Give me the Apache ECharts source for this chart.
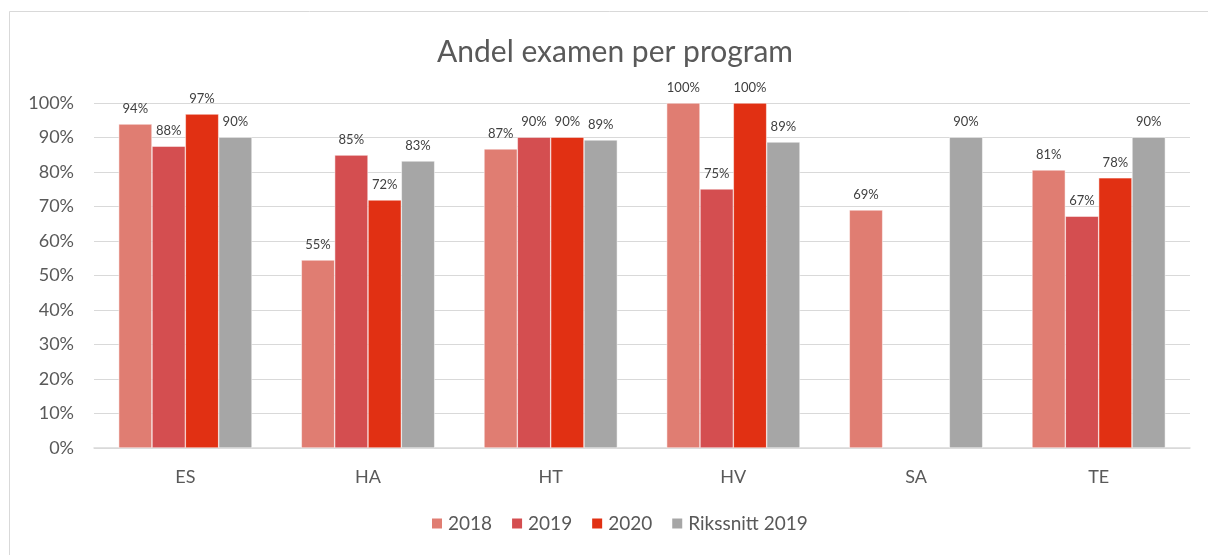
<!DOCTYPE html>
<html>
<head>
<meta charset="utf-8">
<script src="https://cdn.jsdelivr.net/npm/echarts@6/dist/echarts.min.js"></script>
<style>
  html, body { margin: 0; padding: 0; background: #fff; }
  #main { width: 1208px; height: 555px; }
</style>
</head>
<body>
<div id="main"></div>
<script>
// programs
var categories = ['ES', 'HA', 'HT', 'HV', 'SA', 'TE'];
// share of exams per year (percent)
var y2018 = [93.9, 54.5, 86.7, 100, 69, 80.6];
var y2019 = [87.5, 84.9, 90.1, 75.1, null, 67.2];
var y2020 = [96.8, 71.9, 90.1, 100, null, 78.3];
var riks2019 = [90.1, 83.2, 89.3, 88.7, 90.1, 90.1];
var yTicks = [0, 10, 20, 30, 40, 50, 60, 70, 80, 90, 100];

var font = 'Lato, "Open Sans", sans-serif';

function bar(name, data, color) {
  return {
    name: name,
    type: 'bar',
    data: data,
    barGap: '0%',
    barCategoryGap: '27%',
    itemStyle: { color: color, borderColor: '#ffffff', borderWidth: 0.5 },
    label: {
      show: true,
      position: 'top',
      distance: 9,
      color: '#404040',
      fontSize: 13,
      fontFamily: font,
      formatter: function (p) { return p.value == null ? '' : Math.round(p.value) + '%'; }
    }
  };
}

var chart = echarts.init(document.getElementById('main'));
chart.setOption({
  animation: false,
  backgroundColor: '#fff',
  title: {
    text: 'Andel examen per program',
    left: 432,
    top: 32,
    textStyle: { color: '#595959', fontSize: 30, fontWeight: 'normal', fontFamily: font }
  },
  legend: {
    bottom: 17,
    left: 425,
    itemWidth: 12,
    itemHeight: 12,
    itemGap: 18,
    icon: 'rect',
    textStyle: { color: '#595959', fontSize: 19, fontFamily: font },
    data: ['2018', '2019', '2020', 'Rikssnitt 2019']
  },
  grid: { left: 94, right: 18, top: 103, bottom: 107, containLabel: false },
  xAxis: {
    type: 'category',
    data: categories,
    axisLine: { lineStyle: { color: '#d9d9d9', width: 1.5 } },
    axisTick: { show: false },
    axisLabel: { color: '#595959', fontSize: 18, fontFamily: font, margin: 20 }
  },
  yAxis: {
    type: 'value',
    min: yTicks[0],
    max: yTicks[yTicks.length - 1],
    interval: 10,
    axisLine: { show: false },
    axisTick: { show: false },
    splitLine: { lineStyle: { color: '#d9d9d9', width: 1 } },
    axisLabel: { color: '#595959', fontSize: 18, fontFamily: font, margin: 20, formatter: '{value}%' }
  },
  series: [
    bar('2018', y2018, '#E07D72'),
    bar('2019', y2019, '#D44E50'),
    bar('2020', y2020, '#E13013'),
    bar('Rikssnitt 2019', riks2019, '#A6A6A6')
  ],
  graphic: [{
    type: 'rect',
    shape: { x: 9.5, y: 11.5, width: 1250, height: 560 },
    style: { fill: 'none', stroke: '#d9d9d9', lineWidth: 1 },
    silent: true
  }]
});
</script>
</body>
</html>
